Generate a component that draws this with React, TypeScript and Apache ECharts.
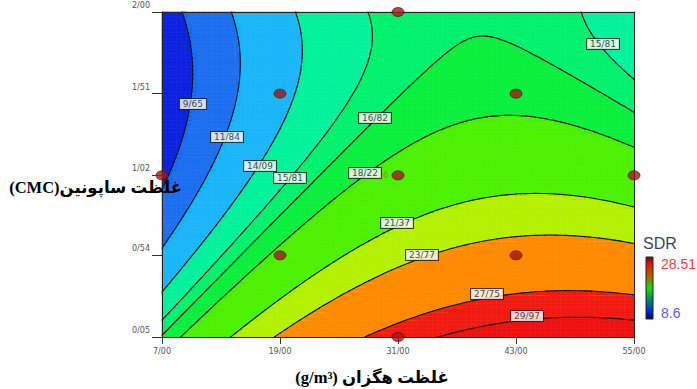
import React, { useEffect, useRef } from 'react';
import * as echarts from 'echarts';

// ---- Axes ----
const xTicks = [7, 19, 31, 43, 55];
const yTicks = [0.05, 0.54, 1.02, 1.51, 2.0];

// ---- Design points (hexane conc., saponin conc.) and SDR surface value read at each dot ----
const designX = [7, 19, 19, 31, 31, 31, 43, 43, 55];
const designY = [1.02, 0.54, 1.51, 0.05, 1.02, 2.0, 0.54, 1.51, 1.02];
const designSDR = [9.25, 18.78, 13.56, 28.85, 19.01, 16.27, 25.01, 17.65, 19.57];
const centerReplicates = 6;

// ---- Contour levels and band colours ----
const contourLevels = [9.65, 11.84, 14.09, 15.81, 16.82, 18.22, 21.37, 23.77, 27.75, 29.97];
const bandColors = [
  '#0b22e0', '#1c6ff0', '#1ab6fa', '#00f39a', '#00f26c', '#0af03c',
  '#4cf200', '#b4f200', '#ff8a00', '#f21a10', '#f01010',
];

// ---- Contour label annotations (level, x, y) ----
const labelLevels = [9.65, 11.84, 14.09, 15.81, 16.82, 18.22, 21.37, 23.77, 27.75, 29.97, 15.81];
const labelX = [10.15, 13.61, 16.97, 20.02, 28.66, 27.64, 30.9, 33.44, 40.05, 44.12, 51.85];
const labelY = [1.448, 1.25, 1.076, 1.004, 1.364, 1.034, 0.734, 0.542, 0.308, 0.176, 1.808];

// ---- Legend / titles ----
const legendTitle = 'SDR';
const legendMax = 28.51;
const legendMin = 8.6;
const xTitle = 'غلظت هگزان (g/m³)';
const yTitle = 'غلظت ساپونین(CMC)';

const fmt = (v: number) => v.toFixed(2).replace('.', '/');
const rtl = (s: string) => '\u202B' + s + '\u202C';

const xMin = xTicks[0];
const xMax = xTicks[xTicks.length - 1];
const yMin = yTicks[0];
const yMax = yTicks[yTicks.length - 1];
const xMid = (xMin + xMax) / 2;
const xHalf = (xMax - xMin) / 2;
const yMid = (yMin + yMax) / 2;
const yHalf = (yMax - yMin) / 2;

function features(x: number, y: number) {
  const u = (x - xMid) / xHalf;
  const v = (y - yMid) / yHalf;
  return [1, u, v, u * u, v * v, u * v];
}

function solve(A: number[][], b: number[]) {
  const n = b.length;
  const M = A.map((r, i) => [...r, b[i]]);
  for (let c = 0; c < n; c++) {
    let p = c;
    for (let r = c + 1; r < n; r++) if (Math.abs(M[r][c]) > Math.abs(M[p][c])) p = r;
    const tmp = M[c]; M[c] = M[p]; M[p] = tmp;
    for (let r = 0; r < n; r++) {
      if (r === c) continue;
      const f = M[r][c] / M[c][c];
      for (let k = c; k <= n; k++) M[r][k] -= f * M[c][k];
    }
  }
  return M.map((r, i) => r[n] / r[i]);
}

// least-squares quadratic response surface fitted to the design points
function fitSurface() {
  const F = designX.map((x, i) => features(x, designY[i]));
  const AtA = Array.from({ length: 6 }, (_, i) =>
    Array.from({ length: 6 }, (_, j) => F.reduce((s, r) => s + r[i] * r[j], 0)));
  const Atb = Array.from({ length: 6 }, (_, i) => F.reduce((s, r, k) => s + r[i] * designSDR[k], 0));
  const beta = solve(AtA, Atb);
  return (x: number, y: number) => features(x, y).reduce((s, f, i) => s + f * beta[i], 0);
}

function buildOption() {
  const surface = fitSurface();
  const NX = 96;
  const NY = 78;
  const dx = (xMax - xMin) / NX;
  const dy = (yMax - yMin) / NY;
  const cells: number[][] = [];
  const crossCells: number[][] = [];
  for (let j = 0; j < NY; j++) {
    for (let i = 0; i < NX; i++) {
      const x0 = xMin + i * dx, x1 = x0 + dx;
      const y0 = yMin + j * dy, y1 = y0 + dy;
      const z = [surface(x0, y0), surface(x1, y0), surface(x1, y1), surface(x0, y1)];
      const cell = [x0, y0, x1, y1, ...z];
      cells.push(cell);
      const zmin = Math.min(...z), zmax = Math.max(...z);
      if (contourLevels.some((L) => L > zmin && L < zmax)) crossCells.push(cell);
    }
  }

  const cellGeom = (api: any) => {
    const x0 = api.value(0), y0 = api.value(1), x1 = api.value(2), y1 = api.value(3);
    const z = [api.value(4), api.value(5), api.value(6), api.value(7)];
    const a = api.coord([x0, y0]);
    const c = api.coord([x1, y1]);
    const P = [[a[0], a[1]], [c[0], a[1]], [c[0], c[1]], [a[0], c[1]]];
    return { a, c, P, z };
  };
  const lerp = (P: number[][], z: number[], e: number, e2: number, L: number) => {
    const t = (L - z[e]) / (z[e2] - z[e]);
    return [P[e][0] + t * (P[e2][0] - P[e][0]), P[e][1] + t * (P[e2][1] - P[e][1])];
  };

  const fillItem = (_params: any, api: any) => {
    const { a, c, P, z } = cellGeom(api);
    const zmin = Math.min(...z), zmax = Math.max(...z);
    const base = contourLevels.filter((L) => L <= zmin).length;
    const children: any[] = [{
      type: 'rect',
      shape: { x: Math.min(a[0], c[0]), y: Math.min(a[1], c[1]), width: Math.abs(c[0] - a[0]), height: Math.abs(c[1] - a[1]) },
      style: { fill: bandColors[base], stroke: bandColors[base], lineWidth: 0.6 },
    }];
    contourLevels.forEach((L, k) => {
      if (!(L > zmin && L <= zmax)) return;
      const poly: number[][] = [];
      for (let e = 0; e < 4; e++) {
        const e2 = (e + 1) % 4;
        if (z[e] >= L) poly.push(P[e]);
        if ((z[e] - L) * (z[e2] - L) < 0) poly.push(lerp(P, z, e, e2, L));
      }
      children.push({ type: 'polygon', shape: { points: poly }, style: { fill: bandColors[k + 1], stroke: bandColors[k + 1], lineWidth: 0.6 } });
    });
    return { type: 'group', children };
  };

  const lineItem = (_params: any, api: any) => {
    const { P, z } = cellGeom(api);
    const children: any[] = [];
    contourLevels.forEach((L) => {
      const pts: number[][] = [];
      for (let e = 0; e < 4; e++) {
        const e2 = (e + 1) % 4;
        if ((z[e] - L) * (z[e2] - L) < 0) pts.push(lerp(P, z, e, e2, L));
      }
      for (let s = 0; s + 1 < pts.length; s += 2) {
        children.push({
          type: 'line',
          shape: { x1: pts[s][0], y1: pts[s][1], x2: pts[s + 1][0], y2: pts[s + 1][1] },
          style: { stroke: '#141414', lineWidth: 1.1, lineCap: 'round' },
        });
      }
    });
    return { type: 'group', children };
  };

  const tickFont = { fontSize: 8, color: '#555', fontFamily: 'DejaVu Sans' };
  const titleFont = "'Liberation Serif', 'DejaVu Sans', serif";

  return {
    animation: false,
    backgroundColor: '#ffffff',
    grid: { left: 162, right: 63, top: 12, bottom: 52, outerBoundsMode: 'none', containLabel: false },
    xAxis: [
      {
        type: 'value', min: xMin, max: xMax, z: 10,
        axisLine: { show: true, lineStyle: { color: '#222', width: 1 } },
        axisTick: { show: true, length: 7, customValues: xTicks, lineStyle: { color: '#333', width: 1 } },
        axisLabel: { customValues: xTicks, formatter: (v: number) => fmt(v), margin: 10, ...tickFont },
        splitLine: { show: false },
      },
      {
        type: 'value', position: 'top', min: xMin, max: xMax, z: 10,
        axisLine: { show: true, lineStyle: { color: '#222', width: 1 } },
        axisTick: { show: false }, axisLabel: { show: false }, splitLine: { show: false },
      },
    ],
    yAxis: [
      {
        type: 'value', min: yMin, max: yMax, z: 10,
        axisLine: { show: true, lineStyle: { color: '#222', width: 1 } },
        axisTick: { show: true, length: 10, customValues: yTicks, lineStyle: { color: '#333', width: 1 } },
        axisLabel: { customValues: yTicks, formatter: (v: number) => fmt(v), margin: 12, verticalAlign: 'bottom', lineHeight: 13, ...tickFont },
        splitLine: { show: false },
      },
      {
        type: 'value', position: 'right', min: yMin, max: yMax, z: 10,
        axisLine: { show: true, lineStyle: { color: '#222', width: 1 } },
        axisTick: { show: false }, axisLabel: { show: false }, splitLine: { show: false },
      },
    ],
    series: [
      {
        type: 'custom', name: 'fill', coordinateSystem: 'cartesian2d', xAxisIndex: 0, yAxisIndex: 0,
        data: cells, encode: { x: [0, 2], y: [1, 3] }, renderItem: fillItem, silent: true, z: 1, progressive: 0,
      },
      {
        type: 'custom', name: 'contours', coordinateSystem: 'cartesian2d', xAxisIndex: 0, yAxisIndex: 0,
        data: crossCells, encode: { x: [0, 2], y: [1, 3] }, renderItem: lineItem, silent: true, z: 2, progressive: 0,
      },
      {
        type: 'scatter', name: 'labels', symbol: 'rect', symbolSize: 1, z: 3, silent: true,
        itemStyle: { color: 'rgba(0,0,0,0)' },
        data: labelLevels.map((L, i) => [labelX[i], labelY[i], L]),
        label: {
          show: true, position: 'inside', formatter: (p: any) => fmt(p.value[2]),
          backgroundColor: '#ffffff', borderColor: '#1a1a1a', borderWidth: 1, padding: [1, 3, 0, 3],
          fontSize: 9, lineHeight: 9, color: '#111', fontFamily: 'DejaVu Sans',
        },
      },
      {
        type: 'scatter', name: 'design', symbol: 'circle', symbolSize: [12, 9], z: 20, clip: false, silent: true,
        itemStyle: { color: '#a01818', borderColor: '#5a0808', borderWidth: 0.8 },
        data: designX.map((x, i) => {
          const item: any = { value: [x, designY[i], designSDR[i]] };
          if (i === 4) {
            item.label = { show: true, formatter: String(centerReplicates), position: 'left', distance: 3, color: '#777', fontSize: 9, fontFamily: 'DejaVu Sans' };
          }
          return item;
        }),
      },
    ],
    graphic: [
      {
        type: 'text', x: 182, y: 187, z: 100,
        style: { text: rtl(yTitle), align: 'right', verticalAlign: 'middle', fontSize: 16.5, fontWeight: 'bold', fontFamily: titleFont, fill: '#000' },
      },
      {
        type: 'text', x: 372, y: 377, z: 100,
        style: { text: rtl(xTitle), align: 'center', verticalAlign: 'middle', fontSize: 16.5, fontWeight: 'bold', fontFamily: titleFont, fill: '#000' },
      },
      {
        type: 'text', x: 643, y: 243, z: 100,
        style: { text: legendTitle, align: 'left', verticalAlign: 'middle', fontSize: 16, fontFamily: 'Liberation Sans', fill: '#3b4560' },
      },
      {
        type: 'text', x: 661, y: 264, z: 100,
        style: { text: String(legendMax), align: 'left', verticalAlign: 'middle', fontSize: 14, fontFamily: 'Liberation Sans', fill: '#ff3b3b' },
      },
      {
        type: 'text', x: 661, y: 313, z: 100,
        style: { text: String(legendMin), align: 'left', verticalAlign: 'middle', fontSize: 14, fontFamily: 'Liberation Sans', fill: '#5a5aff' },
      },
      {
        type: 'rect', x: 646, y: 257, z: 100,
        shape: { width: 7, height: 62 },
        style: {
          fill: new echarts.graphic.LinearGradient(0, 0, 0, 1, [
            { offset: 0, color: '#7a0000' },
            { offset: 0.1, color: '#e01010' },
            { offset: 0.3, color: '#b85a00' },
            { offset: 0.5, color: '#10e010' },
            { offset: 0.65, color: '#00a040' },
            { offset: 0.85, color: '#0030e0' },
            { offset: 1, color: '#000070' },
          ]),
          stroke: '#222', lineWidth: 1,
        },
      },
    ],
  };
}

export default function App() {
  const ref = useRef<HTMLDivElement>(null);
  useEffect(() => {
    if (!ref.current) return;
    const chart = echarts.init(ref.current, undefined, { renderer: 'svg' });
    chart.setOption(buildOption() as any);
    return () => chart.dispose();
  }, []);
  return (
    <div
      ref={ref}
      style={{ position: 'fixed', left: 0, top: 0, width: 697, height: 389, background: '#fff' }}
    />
  );
}
